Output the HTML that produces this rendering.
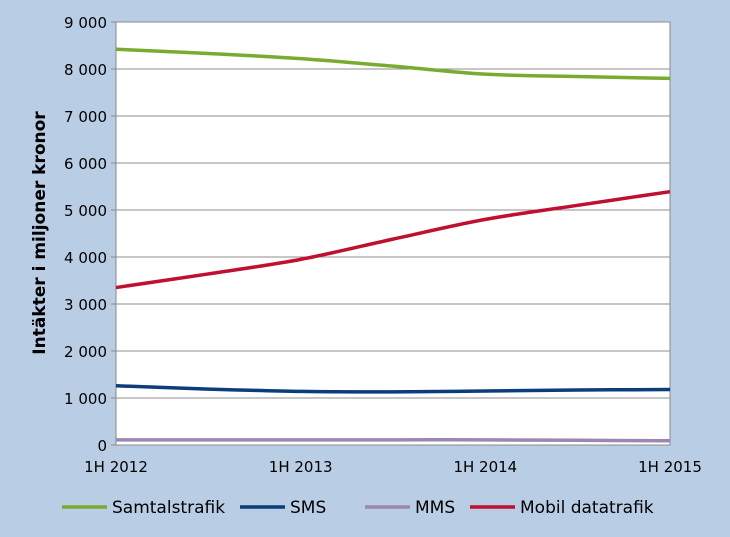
<!DOCTYPE html>
<html><head><meta charset="utf-8"><style>
body{margin:0;background:#b9cde5;}
svg{display:block;font-family:"DejaVu Sans","Liberation Sans",sans-serif;}
</style></head><body>
<svg id="c" width="730" height="537"></svg>
<script>
const categories=["1H 2012","2H 2012","1H 2013","2H 2013","1H 2014","2H 2014","1H 2015"];
const tickLabels=["0","1 000","2 000","3 000","4 000","5 000","6 000","7 000","8 000","9 000"];
const yTicks=[0,1000,2000,3000,4000,5000,6000,7000,8000,9000];
const samtal=[8420,8330,8220,8060,7890,7840,7800];
const sms=[1260,1190,1140,1130,1150,1170,1180];
const mms=[110,110,110,110,110,100,90];
const mobil=[3350,3640,3950,4380,4800,5100,5390];
const seriesNames=["Samtalstrafik","SMS","MMS","Mobil datatrafik"];
const colors=["#77ac30","#0a3d7a","#9b88b0","#c0102f"];
const svg=document.getElementById('c');const NS="http://www.w3.org/2000/svg";
const X0=116,X1=670,Y0=445,Y1=22;
const x=i=>X0+(X1-X0)*i/(categories.length-1);
const y=v=>Y0-(Y0-Y1)*v/9000;
function mk(t,a,txt){const e=document.createElementNS(NS,t);for(const k in a)e.setAttribute(k,a[k]);if(txt!=null)e.textContent=txt;svg.appendChild(e);return e;}
let e=mk('rect',{x:X0,y:Y1,width:X1-X0,height:Y0-Y1,fill:'#fff',stroke:'#888'});


yTicks.forEach((v,i)=>{
 let g=mk('line',{x1:X0-5,x2:X1,y1:y(v),y2:y(v),stroke:'#8c8c8c','stroke-width':1});
 
 
 let t=mk('text',{x:X0-9,y:y(v)+6,'text-anchor':'end','font-size':15},tickLabels[i]);
 
 
});
categories.forEach((c,i)=>{
 if(i%2)return;
 let t=mk('text',{x:x(i),y:472,'text-anchor':'middle','font-size':15},c);
 
 
});
let yt=mk('text',{transform:'translate(45,233) rotate(-90)','text-anchor':'middle','font-size':17,'font-weight':'bold'},'Intäkter i miljoner kronor');


function path(vals){
 const p=vals.map((v,i)=>[x(i),y(v)]);let d=`M${p[0][0]},${p[0][1]}`;
 for(let i=0;i<p.length-1;i++){const a=p[Math.max(i-1,0)],b=p[i],c=p[i+1],n=p[Math.min(i+2,p.length-1)];
  d+=` C${b[0]+(c[0]-a[0])/6},${b[1]+(c[1]-a[1])/6} ${c[0]-(n[0]-b[0])/6},${c[1]-(n[1]-b[1])/6} ${c[0]},${c[1]}`;}
 return d;}
[samtal,sms,mms,mobil].forEach((s,i)=>{
 let p=mk('path',{d:path(s),fill:'none',stroke:colors[i],'stroke-width':3.5});
 
 
});
const lx=[62,240,365,470];
seriesNames.forEach((n,i)=>{
 let l=mk('line',{x1:lx[i],x2:lx[i]+45,y1:507,y2:507,stroke:colors[i],'stroke-width':3.5});
 
 
 let t=mk('text',{x:lx[i]+50,y:513,'font-size':17},n);
 
 
});
</script>
</body></html>
